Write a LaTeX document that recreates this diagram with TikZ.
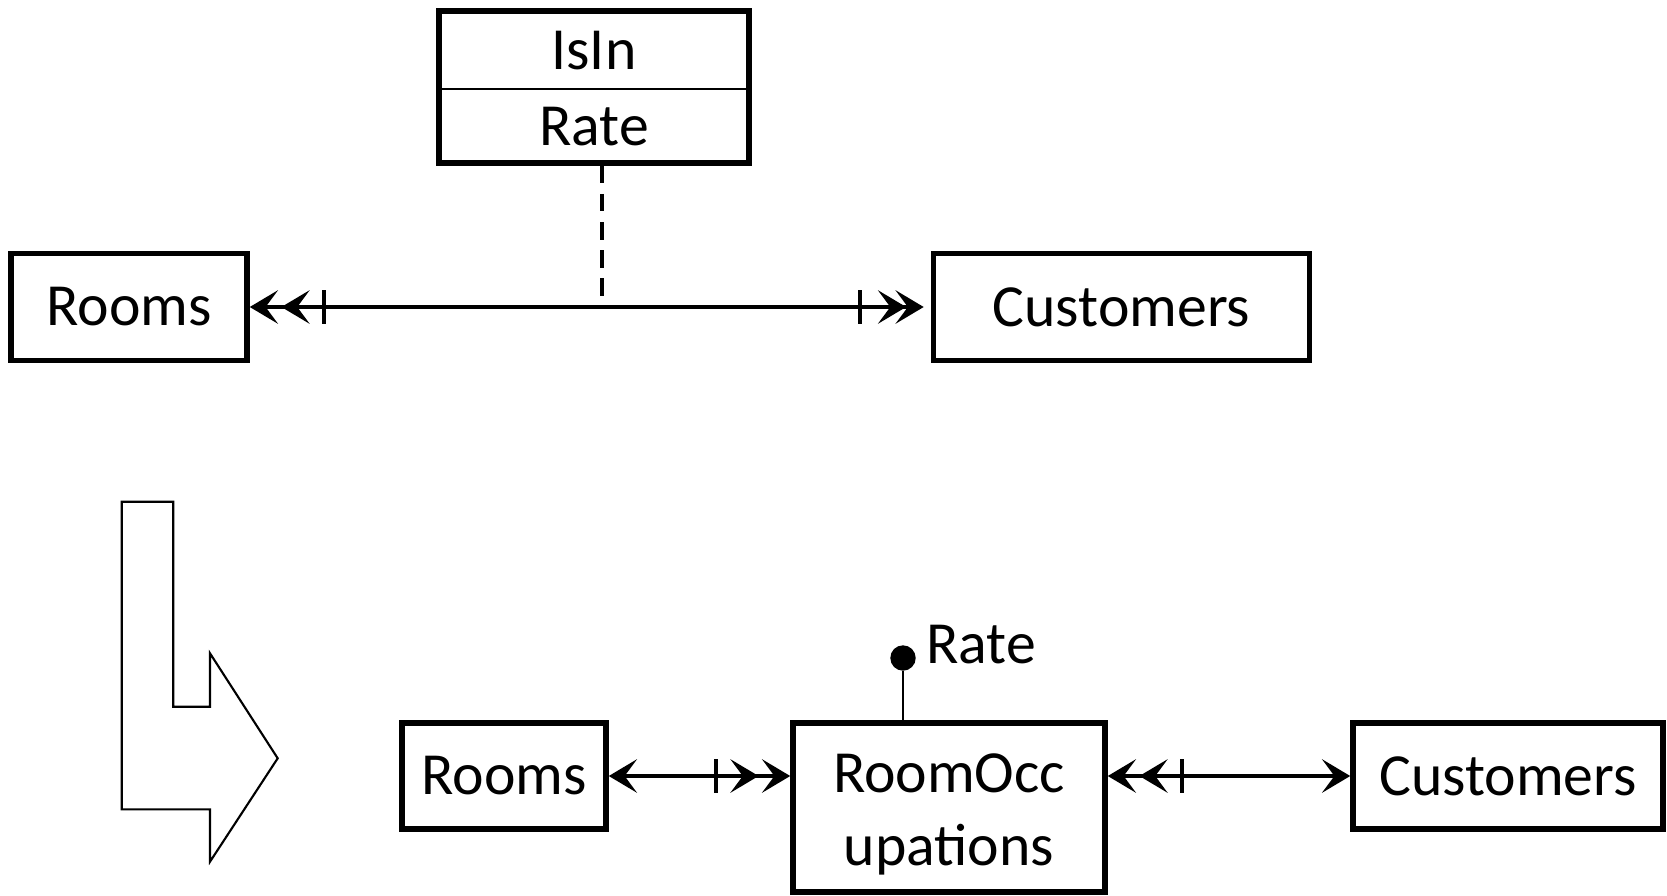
\documentclass[tikz,border=0pt]{standalone}
\usepackage{fontspec}
\setmainfont{Carlito}
\usetikzlibrary{arrows.meta}
\begin{document}
\begin{tikzpicture}[x=0.02cm, y=-0.02cm,
  font=\fontsize{34}{42}\selectfont,
  box/.style={draw, line width=3.2pt, inner sep=0pt, align=center},
  link/.style={line width=2.6pt},
  hd/.tip={Stealth[length=16pt, width=19pt, inset=7pt]},
  tick/.tip={Bar[width=19pt]}]
\useasboundingbox (0,0) rectangle (1667,896);

% upper model: relationship with attribute
\node[box, minimum width=4.72cm, minimum height=2.14cm] (rooms) at (129,307) {Rooms};
\node[box, minimum width=7.52cm, minimum height=2.14cm] (cust) at (1121.5,307) {Customers};
\node[box, minimum width=6.2cm, minimum height=3.04cm] (isin) at (594,87) {};
\node (isinname) at (594,51) {IsIn};
\node (isinrate) at (594,126.5) {Rate};
\draw[line width=0.9pt] (isin.west |- 0,89) -- (isin.east |- 0,89);

\coordinate (j) at (602,306);
\draw[link, {hd[] hd[sep=2pt] tick[sep=7pt]}-{tick[sep=9pt] hd[sep=-6pt] hd[]}, shorten >=4pt] (rooms) -- (cust);
\draw[link, dash pattern=on 10pt off 6pt] (isin.south -| j) -- (j);

% transformation arrow
\draw[line width=1.2pt] (121.7,501.7) -- (173.3,501.7) -- (173.3,706.7) -- (210,706.7)
  -- (210,653.3) -- (277.7,758.3) -- (210,861.7) -- (210,809.3) -- (121.7,809.3) -- cycle;

% lower model: associative entity
\node[box, minimum width=4.08cm, minimum height=2.12cm] (rooms2) at (504,776) {Rooms};
\node[box, minimum width=6.24cm, minimum height=3.38cm] (occ) at (949,807.5) {};
\node[align=center] (occtext) at (949,814.5) {RoomOcc\\upations};
\node[box, minimum width=6.2cm, minimum height=2.12cm] (cust2) at (1508,776) {Customers};

\draw[link, {hd[]}-{tick[sep=7pt] hd[sep=2pt] hd[]}] (rooms2) -- (rooms2 -| occ.west);
\draw[link, {hd[] hd[sep=2pt] tick[sep=7pt]}-{hd[]}] (occ.east |- cust2) -- (cust2);

\node[circle, fill, inner sep=0pt, minimum size=0.508cm] (dot) at (903,658) {};
\draw[line width=1.1pt] (dot) -- (dot |- occ.north);
\node[anchor=west, inner sep=0pt] (ratelbl) at (926,645) {Rate};
\end{tikzpicture}
\end{document}
